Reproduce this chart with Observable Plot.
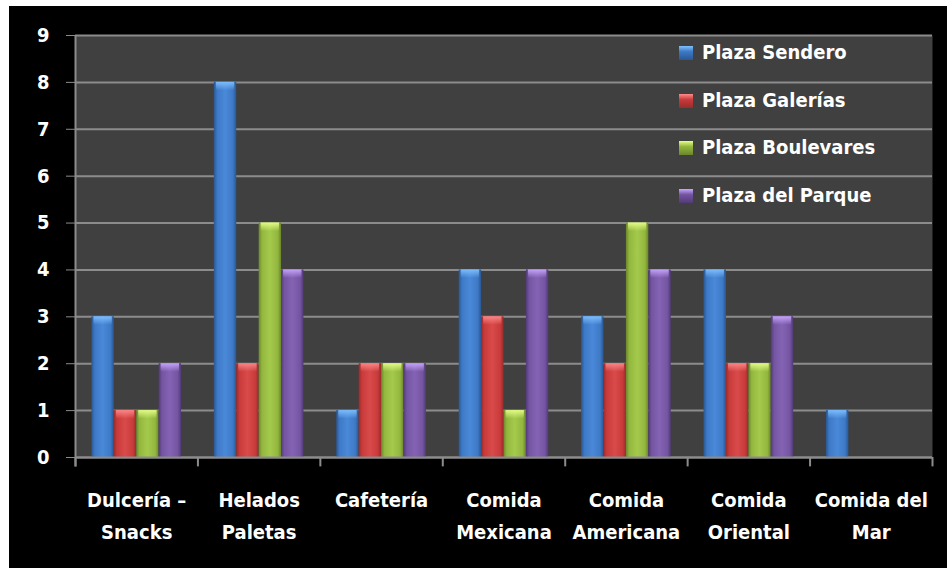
<!DOCTYPE html>
<html><head><meta charset="utf-8">
<script src="https://cdn.jsdelivr.net/npm/d3@7"></script>
<script src="https://cdn.jsdelivr.net/npm/@observablehq/plot@0.6"></script>
<style>
html,body{margin:0;padding:0;background:#fff;}
#wrap{position:relative;width:949px;height:573px;overflow:hidden;font-family:"Liberation Sans Narrow","DejaVu Sans Condensed","DejaVu Sans",sans-serif;font-weight:bold;}
#bg{position:absolute;left:9px;top:6px;width:938px;height:562px;background:#000;}
#chart{position:absolute;left:0;top:0;}
#legend{position:absolute;left:679px;top:40px;color:#fff;font-size:20px;}
#legend .item{height:47.5px;display:flex;align-items:flex-start;}
#legend .sw{width:14px;height:14px;margin-top:6px;margin-right:9px;box-sizing:border-box;}
#legend .lbl{line-height:24px;}
</style></head>
<body>
<svg width="0" height="0" style="position:absolute">
<defs id="defs"></defs>
</svg>
<div id="wrap"><div id="bg"></div><div id="chart"></div><div id="legend"></div></div>
<script>
const categories = ["Dulcería – Snacks","Helados Paletas","Cafetería","Comida Mexicana","Comida Americana","Comida Oriental","Comida del Mar"];
const categoryLabels = ["Dulcería –\nSnacks","Helados\nPaletas","Cafetería","Comida\nMexicana","Comida\nAmericana","Comida\nOriental","Comida del\nMar"];
const series = ["Plaza Sendero","Plaza Galerías","Plaza Boulevares","Plaza del Parque"];
const sendero    = [3,8,1,4,3,4,1];
const galerias   = [1,2,2,3,2,2,0];
const boulevares = [1,5,2,1,5,2,0];
const parque     = [2,4,2,4,4,3,0];
const yTicks = [0,1,2,3,4,5,6,7,8,9];
const seriesValues = [sendero, galerias, boulevares, parque];

// colour ramps: [dark edge, main, light centre, cap highlight]
const palette = [
  ["#2a5792","#3d79c6","#4a89d9","#7fc0ff"],
  ["#9a2b2b","#c93b3b","#d94a4a","#ff8a8a"],
  ["#6b862c","#93b73e","#a4ca4c","#e6ff8a"],
  ["#523a76","#7455a2","#8463b4","#c9a6ff"]
];
const defs = document.getElementById("defs");
palette.forEach((p, j) => {
  defs.innerHTML += `
  <linearGradient id="g${j}" x1="0" x2="1" y1="0" y2="0">
    <stop offset="0" stop-color="${p[0]}"/><stop offset="0.15" stop-color="${p[1]}"/>
    <stop offset="0.5" stop-color="${p[2]}"/><stop offset="0.85" stop-color="${p[1]}"/>
    <stop offset="1" stop-color="${p[0]}"/></linearGradient>
  <linearGradient id="c${j}" x1="0" x2="0" y1="0" y2="1">
    <stop offset="0" stop-color="${p[3]}" stop-opacity="0.95"/>
    <stop offset="1" stop-color="${p[3]}" stop-opacity="0"/></linearGradient>`;
});

const rows = categories.flatMap((c, i) => series.map((s, j) => ({i, j, s, c, v: seriesValues[j][i]})));
const BW = 0.183; // bar width as a fraction of a category band
const x1 = d => d.i + 0.5 + (d.j - 2) * BW;
const x2 = d => d.i + 0.5 + (d.j - 1) * BW;

const marks = [
  Plot.frame({fill: "#404040", stroke: null}),
  Plot.gridY(yTicks, {stroke: "#8c8c8c", strokeOpacity: 1, strokeWidth: 2}),
  Plot.ruleX([0], {y1: -0.2, y2: 9, stroke: "#8c8c8c", strokeWidth: 2}),
  Plot.ruleX(d3.range(categories.length + 1), {y1: -0.2, y2: 0, stroke: "#8c8c8c", strokeWidth: 2}),
];
series.forEach((s, j) => {
  const data = rows.filter(d => d.j === j && d.v > 0);
  marks.push(Plot.rect(data, {x1, x2, y1: 0, y2: "v", fill: `url(#g${j})`}));
  marks.push(Plot.rect(data, {x1, x2, y1: d => d.v - 0.18, y2: "v", insetLeft: 2, insetRight: 2, fill: `url(#c${j})`}));
});
marks.push(
  Plot.axisY(yTicks, {tickSize: 9, tickPadding: 17, stroke: "#8c8c8c", color: "white", label: null, tickFormat: d => d}),
  Plot.axisX(d3.range(categories.length).map(i => i + 0.5), {tickSize: 0, tickPadding: 27, color: "white", label: null, lineHeight: 1.6, tickFormat: d => categoryLabels[Math.floor(d)]}),
  Plot.ruleY([0], {stroke: "#8c8c8c", strokeWidth: 2})
);

const chart = Plot.plot({
  width: 949, height: 573,
  marginLeft: 75, marginRight: 17, marginTop: 35, marginBottom: 116,
  style: {background: "transparent", color: "white", fontFamily: '"Liberation Sans Narrow","DejaVu Sans Condensed","DejaVu Sans",sans-serif', fontWeight: "bold", fontSize: "20px", overflow: "visible"},
  x: {type: "linear", domain: [0, categories.length], axis: null, label: null},
  y: {domain: [0, 9], axis: null, label: null},
  marks
});
document.getElementById("chart").appendChild(chart);

const legend = document.getElementById("legend");
series.forEach((s, j) => {
  const p = palette[j];
  legend.innerHTML += `<div class="item"><div class="sw" style="background:linear-gradient(${p[3]} 0, ${p[1]} 40%, ${p[0]} 100%)"></div><div class="lbl">${s}</div></div>`;
});
</script>
</body></html>
